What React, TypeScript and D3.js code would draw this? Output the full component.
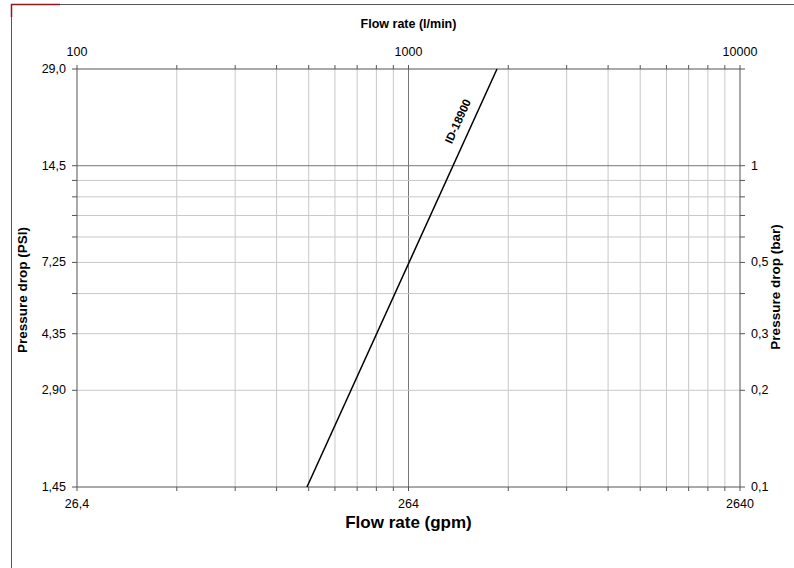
import React from "react";
import * as d3 from "d3";

const flowTicksLmin = [100, 1000, 10000];
const flowTickLabelsTop = ["100", "1000", "10000"];
const flowTickLabelsBottom = ["26,4", "264", "2640"];
const pressureBarTicks = [0.1, 0.2, 0.3, 0.5, 1, 2];
const pressureBarLabels = ["0,1", "0,2", "0,3", "0,5", "1", ""];
const pressurePsiLabels = ["1,45", "2,90", "4,35", "7,25", "14,5", "29,0"];
const gridX = [200, 300, 400, 500, 600, 700, 800, 900, 1000, 2000, 3000, 4000, 5000, 6000, 7000, 8000, 9000];
const gridY = [0.2, 0.3, 0.4, 0.5, 0.6, 0.7, 0.8, 0.9, 1];
const seriesName = "ID-18900";
const seriesFlow = [494, 1849];
const seriesBar = [0.1, 2];
const labelFlow = 1539;
const labelBar = 1.32;

const L = 77, R = 740, T = 69, B = 487;
const FONT = "'Liberation Sans', Arial, sans-serif";

export default function App() {
  const x = d3.scaleLog().domain([100, 10000]).range([L, R]);
  const y = d3.scaleLog().domain([0.1, 2]).range([B, T]);
  const pts: [number, number][] = seriesFlow.map((f, i) => [x(f), y(seriesBar[i])]);
  const line = d3.line()(pts) || "";
  const ang = (Math.atan2(pts[1][1] - pts[0][1], pts[1][0] - pts[0][0]) * 180) / Math.PI;
  const lx = x(labelFlow), ly = y(labelBar);
  const isMajorX = (v: number) => v === 1000;
  const isMajorY = (v: number) => v === 1;
  return (
    <svg width={794} height={568} style={{ position: "absolute", left: 0, top: 0 }} fontFamily={FONT}>
      <rect x={0} y={0} width={794} height={568} fill="#fff" />
      <path d="M11.5,568 V4.5 H794" fill="none" stroke="#555" strokeWidth={1} />
      <path d="M11.5,17 V4.5 H60" fill="none" stroke="#8b1a1a" strokeWidth={1.5} />
      {gridX.map((v) => (
        <g key={"gx" + v}>
          <line x1={x(v)} x2={x(v)} y1={T} y2={B} stroke={isMajorX(v) ? "#777" : "#c8c8c8"} strokeWidth={1} />
          <line x1={x(v)} x2={x(v)} y1={T - 4} y2={T} stroke="#555" />
          <line x1={x(v)} x2={x(v)} y1={B} y2={B + 4} stroke="#555" />
        </g>
      ))}
      {gridY.map((v) => (
        <g key={"gy" + v}>
          <line x1={L} x2={R} y1={y(v)} y2={y(v)} stroke={isMajorY(v) ? "#777" : "#c8c8c8"} strokeWidth={1} />
          <line x1={L - 5} x2={L} y1={y(v)} y2={y(v)} stroke="#555" />
          <line x1={R} x2={R + 5} y1={y(v)} y2={y(v)} stroke="#555" />
        </g>
      ))}
      <rect x={L} y={T} width={R - L} height={B - T} fill="none" stroke="#555" strokeWidth={1} />
      {[100, 10000].map((v) => (
        <g key={"ex" + v}>
          <line x1={x(v)} x2={x(v)} y1={T - 4} y2={T} stroke="#555" />
          <line x1={x(v)} x2={x(v)} y1={B} y2={B + 4} stroke="#555" />
        </g>
      ))}
      {[0.1, 2].map((v) => (
        <g key={"ey" + v}>
          <line x1={L - 5} x2={L} y1={y(v)} y2={y(v)} stroke="#555" />
          <line x1={R} x2={R + 5} y1={y(v)} y2={y(v)} stroke="#555" />
        </g>
      ))}
      <path d={line} fill="none" stroke="#000" strokeWidth={1.5} />
      <text x={lx} y={ly} dy={-10} transform={`rotate(${ang} ${lx} ${ly})`} fontSize={11.5} fontWeight="bold" textAnchor="middle" fill="#000">
        {seriesName}
      </text>
      {flowTicksLmin.map((v, i) => (
        <g key={"fl" + v}>
          <text x={x(v)} y={56} fontSize={12.5} textAnchor="middle" fill="#000">{flowTickLabelsTop[i]}</text>
          <text x={x(v)} y={508} fontSize={12.5} textAnchor="middle" fill="#000">{flowTickLabelsBottom[i]}</text>
        </g>
      ))}
      {pressureBarTicks.map((v, i) => (
        <g key={"pl" + v}>
          <text x={66} y={y(v) + 4} fontSize={12.5} textAnchor="end" fill="#000">{pressurePsiLabels[i]}</text>
          <text x={751} y={y(v) + 4} fontSize={12.5} textAnchor="start" fill="#000">{pressureBarLabels[i]}</text>
        </g>
      ))}
      <text x={(L + R) / 2} y={28} fontSize={12.5} fontWeight="bold" textAnchor="middle" fill="#000">Flow rate (l/min)</text>
      <text x={(L + R) / 2} y={528} fontSize={17} fontWeight="bold" textAnchor="middle" fill="#000">Flow rate (gpm)</text>
      <text x={0} y={0} transform={`translate(27 290) rotate(-90)`} fontSize={13.5} fontWeight="bold" textAnchor="middle" fill="#000">Pressure drop (PSI)</text>
      <text x={0} y={0} transform={`translate(780 287) rotate(-90)`} fontSize={13.5} fontWeight="bold" textAnchor="middle" fill="#000">Pressure drop (bar)</text>
    </svg>
  );
}
